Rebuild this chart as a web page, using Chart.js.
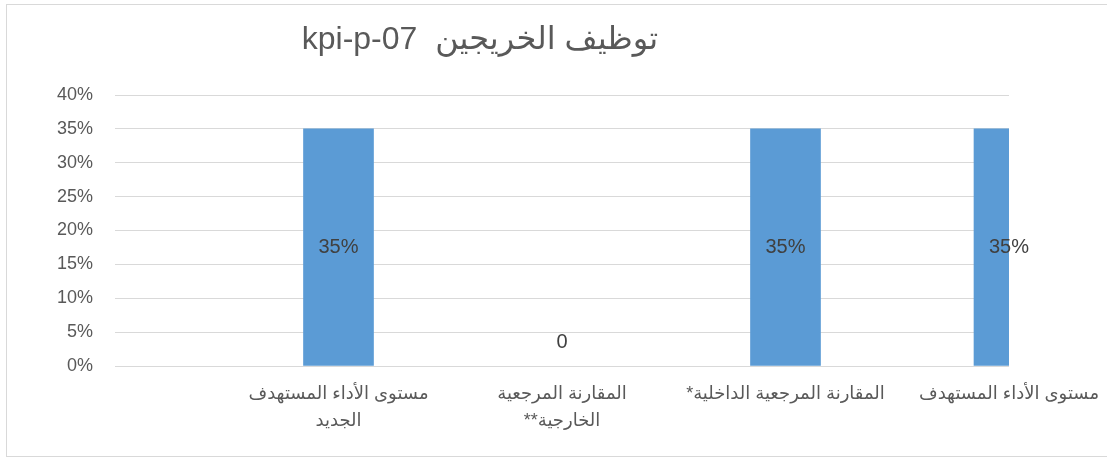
<!DOCTYPE html>
<html>
<head>
<meta charset="utf-8">
<script src="https://cdn.jsdelivr.net/npm/chart.js@4/dist/chart.umd.min.js"></script>
<style>
    html, body { margin: 0; padding: 0; background: #fff; }
    #wrap { width: 1107px; height: 458px; position: relative; }
</style>
</head>
<body>
<div id="wrap"><canvas id="kpi-chart" dir="rtl"></canvas></div>
<script>
// Chart data (left to right, as shown)
const chartTitle = "توظيف الخريجين  kpi-p-07";
const categories = [
    "",
    ["مستوى الأداء المستهدف", "الجديد"],
    ["المقارنة المرجعية", "الخارجية**"],
    "المقارنة المرجعية الداخلية*",
    "مستوى الأداء المستهدف"
];
const values = [null, 35, 0, 35, 35];
const yTicks = [0, 5, 10, 15, 20, 25, 30, 35, 40];

const textColor = "#595959";
const gridColor = "#D9D9D9";
const barColor = "#5B9BD5";
const fontFamily = "'Liberation Sans', 'DejaVu Sans', sans-serif";

// Frame + title
const frameAndTitle = {
    id: "frameAndTitle",
    beforeDraw(chart) {
        const ctx = chart.ctx;
        ctx.save();
        ctx.strokeStyle = gridColor;
        ctx.lineWidth = 1;
        ctx.strokeRect(6.5, 4.5, 1110, 452);
        ctx.restore();
    },
    afterDraw(chart) {
        const ctx = chart.ctx;
        ctx.save();
        ctx.direction = "rtl";
        ctx.font = "32px " + fontFamily;
        ctx.fillStyle = textColor;
        ctx.textAlign = "center";
        ctx.textBaseline = "middle";
        ctx.fillText(chartTitle, 480, 40);
        ctx.restore();
    }
};

// Value labels on the bars
const valueLabels = {
    id: "valueLabels",
    afterDatasetsDraw(chart) {
        const ctx = chart.ctx;
        const meta = chart.getDatasetMeta(0);
        ctx.save();
        ctx.font = "20px " + fontFamily;
        ctx.fillStyle = "#404040";
        ctx.textAlign = "center";
        ctx.textBaseline = "middle";
        meta.data.forEach((bar, i) => {
            const v = values[i];
            if (v === null || v === undefined) return;
            const text = v === 0 ? "0" : v + "%";
            const y = v > 0 ? (bar.y + bar.base) / 2 : bar.base - 24;
            ctx.fillText(text, bar.x, y);
        });
        ctx.restore();
    }
};

const ctx = document.getElementById("kpi-chart").getContext("2d");
new Chart(ctx, {
    type: "bar",
    data: {
        labels: categories,
        datasets: [{
            data: values,
            backgroundColor: c => (c.raw ? barColor : "rgba(0,0,0,0)"),
            barThickness: 70,
            clip: 0
        }]
    },
    options: {
        responsive: true,
        maintainAspectRatio: false,
        animation: false,
        layout: { padding: { top: 95, right: 98, bottom: 0, left: 0 } },
        plugins: {
            legend: { display: false },
            tooltip: { enabled: false },
            title: { display: false }
        },
        scales: {
            x: {
                offset: false,
                grid: { display: false, drawTicks: false },
                border: { display: false },
                ticks: {
                    autoSkip: false,
                    maxRotation: 0,
                    minRotation: 0,
                    padding: 15,
                    color: textColor,
                    font: { family: fontFamily, size: 18, lineHeight: 1.5 }
                },
                afterFit(scale) {
                    scale.height = 92;
                    scale.paddingLeft = 0;
                    scale.paddingRight = 0;
                }
            },
            y: {
                min: 0,
                max: 40,
                afterBuildTicks(scale) { scale.ticks = yTicks.map(v => ({ value: v })); },
                grid: { color: gridColor, lineWidth: 1, drawTicks: false },
                border: { display: false },
                ticks: {
                    padding: 22,
                    color: textColor,
                    font: { family: fontFamily, size: 18 },
                    callback: v => v + "%"
                },
                afterFit(scale) { scale.width = 115; }
            }
        }
    },
    plugins: [frameAndTitle, valueLabels]
});
</script>
</body>
</html>
